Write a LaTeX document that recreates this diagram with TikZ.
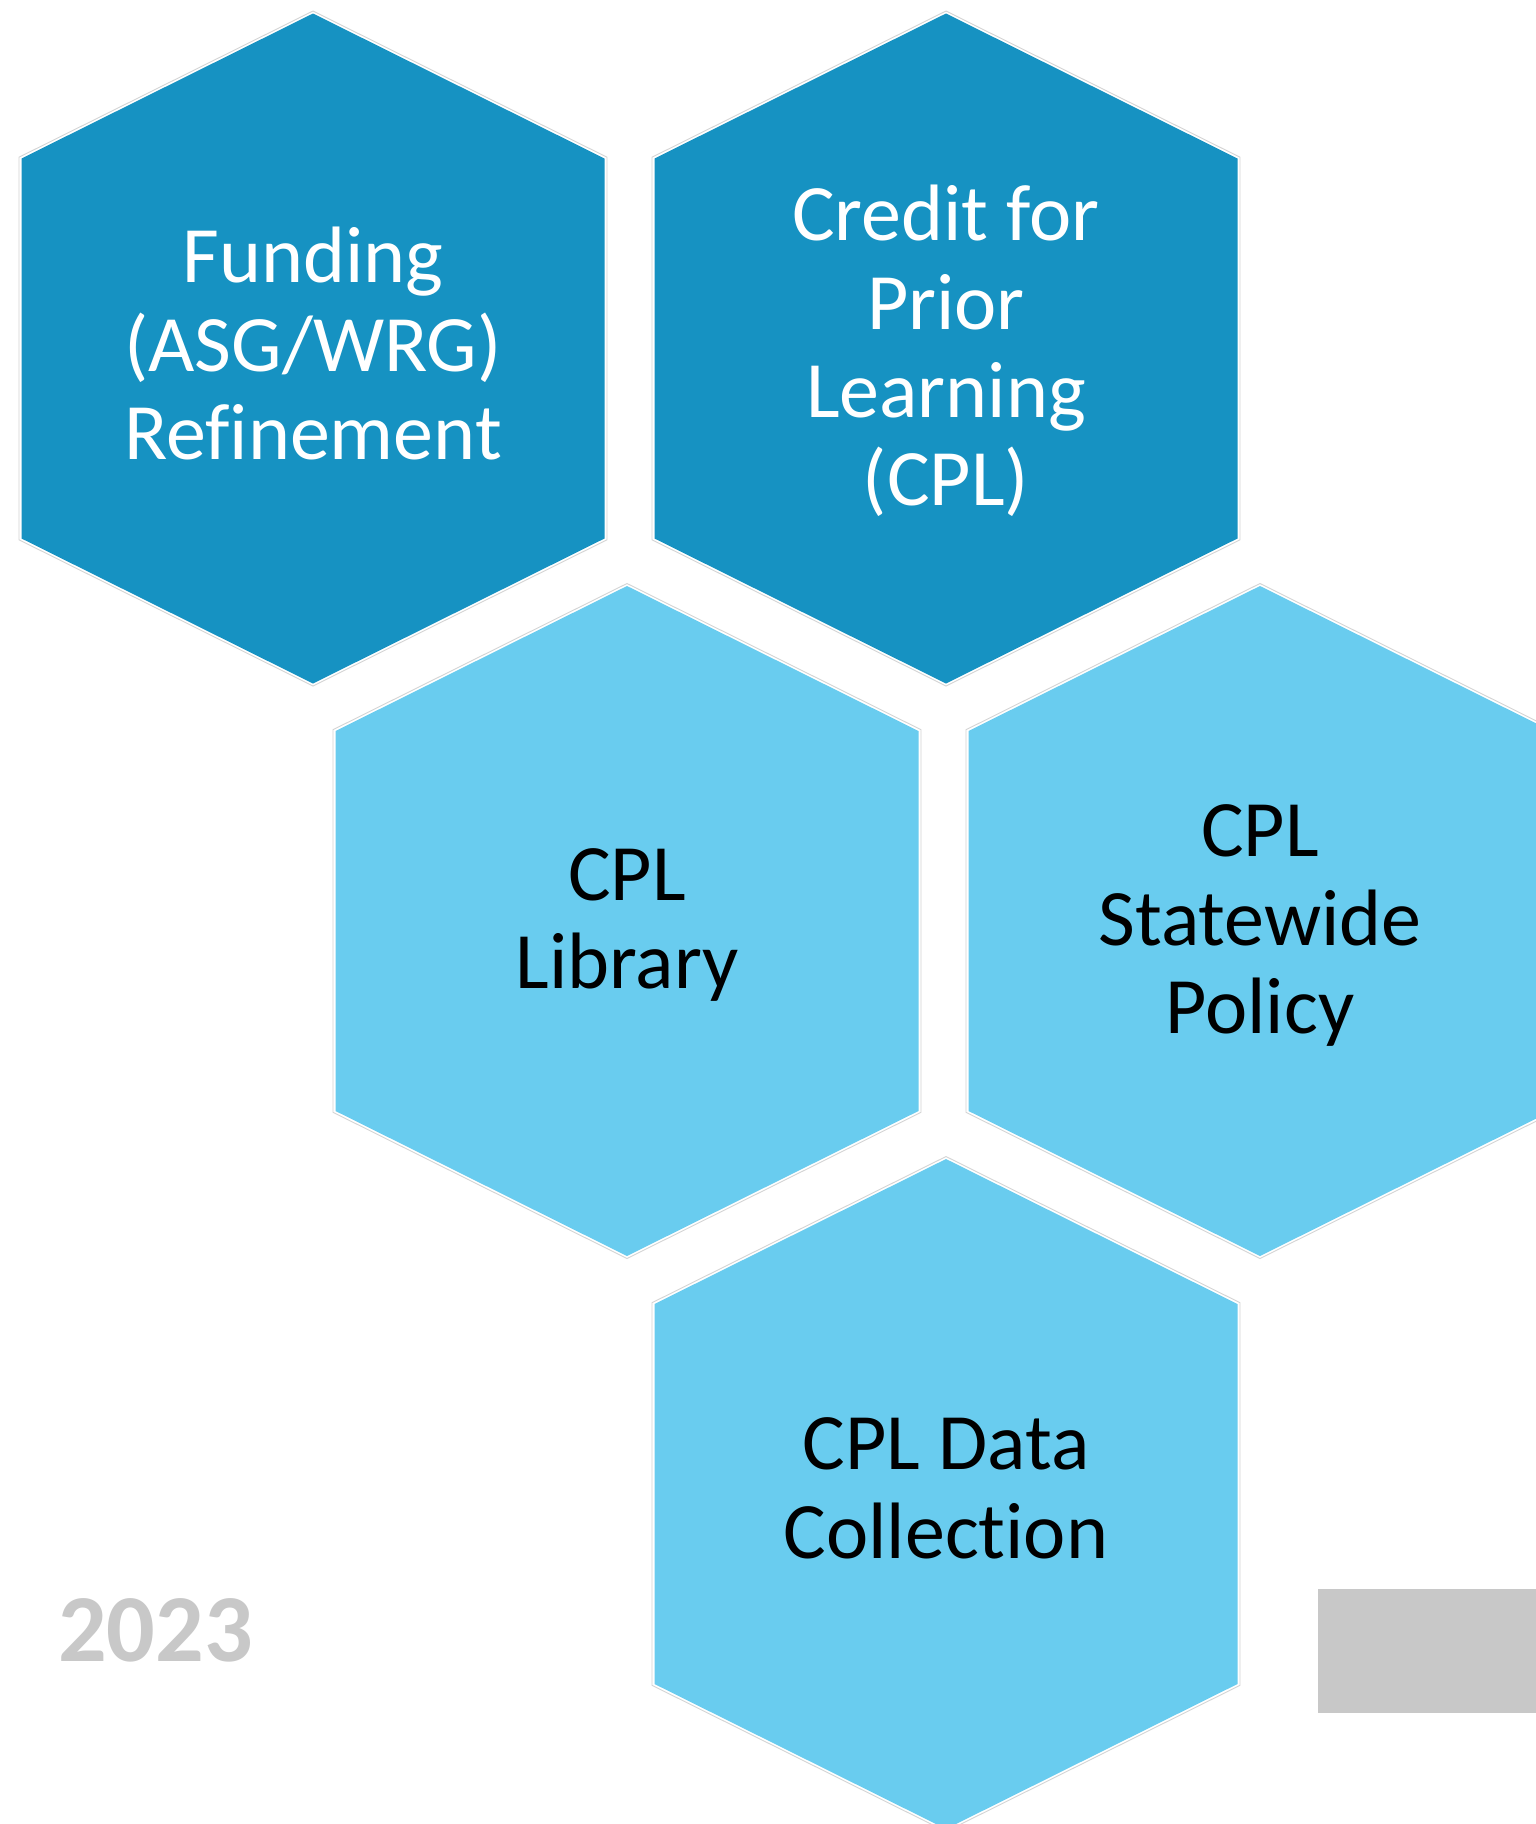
\documentclass[tikz,border=0pt]{standalone}
\usepackage{fontspec}
\setmainfont{Carlito}[Ligatures={NoCommon}]
\definecolor{darkblue}{HTML}{1692C2}
\definecolor{lightblue}{HTML}{69CCEF}
\definecolor{softgray}{HTML}{C8C8C8}
\definecolor{rimgray}{HTML}{D4D4D4}
\begin{document}
\begin{tikzpicture}[x=1pt,y=-1pt,
  pics/hexcell/.style={code={
    \draw[rimgray,line width=0.9pt] (0,-337.5) -- (294,-191.3) -- (294,191.3) -- (0,337.5) -- (-294,191.3) -- (-294,-191.3) -- cycle;
    \fill[#1] (0,-335) -- (291.5,-190) -- (291.5,190) -- (0,335) -- (-291.5,190) -- (-291.5,-190) -- cycle;
  }},
  hextext/.style={align=center,inner sep=0pt,font=\fontsize{80}{88.3}\selectfont},
  darktext/.style={hextext,text=white},
  lighttext/.style={hextext,text=black}
]
\useasboundingbox (0,0) rectangle (1536,1824);
\clip (0,0) rectangle (1536,1824);
\fill[white] (0,0) rectangle (1536,1824);

\pic at (313,348.5) {hexcell=darkblue};
\pic at (946,348.5) {hexcell=darkblue};
\pic at (627,921) {hexcell=lightblue};
\pic at (1260,921) {hexcell=lightblue};
\pic at (946,1494) {hexcell=lightblue};

\node[darktext] (funding) at (313,343.7) {Funding\\(ASG/WRG)\\Refinement};
\node[darktext] (credit) at (946,351) {Credit for\\Prior\\Learning\\(CPL)};
\node[lighttext] (library) at (627,924.9) {CPL\\Library};
\node[lighttext] (policy) at (1260,925.5) {CPL\\Statewide\\Policy};
\node[lighttext] (data) at (946,1488.2) {CPL Data\\Collection};

\node[anchor=base west,inner sep=0pt,text=softgray,font=\fontsize{96}{100}\selectfont\bfseries] (year) at (58,1661.7) {2023};
\fill[softgray] (1318,1589) rectangle (1536,1713);
\end{tikzpicture}
\end{document}
